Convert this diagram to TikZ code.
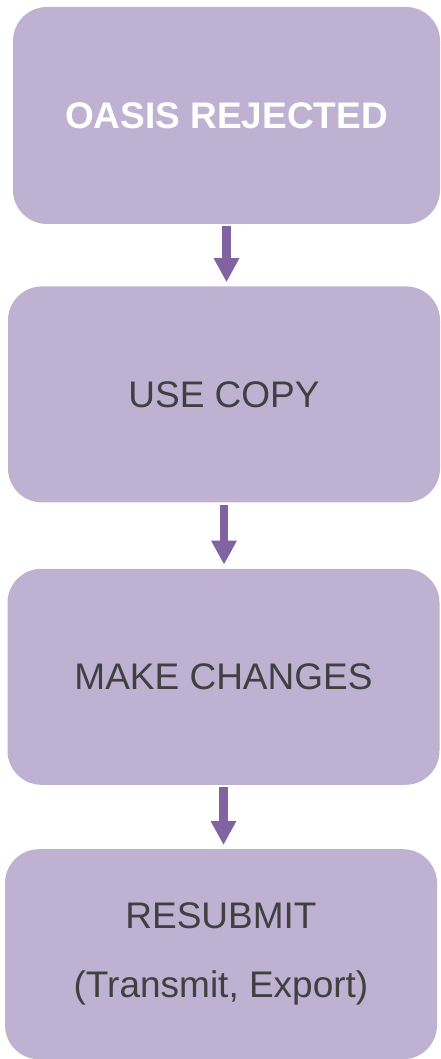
\documentclass[tikz,border=0pt]{standalone}
\usepackage{fontspec}
\setmainfont{Liberation Sans}
\usetikzlibrary{arrows.meta, positioning}

\definecolor{boxfill}{HTML}{BFB1D2}
\definecolor{flowpurple}{HTML}{8064A2}
\definecolor{textgrey}{HTML}{404040}

\begin{document}
\begin{tikzpicture}[
    stepbox/.style={fill=boxfill, rounded corners=34pt, align=center, text=textgrey,
      minimum width=432pt, minimum height=216pt, inner sep=0pt,
      font=\fontsize{37}{69}\selectfont},
    flow/.style={-{Triangle[width=24pt, length=24pt]}, draw=flowpurple,
      line width=8.5pt, shorten <=2pt, shorten >=4pt}
  ]
    \useasboundingbox (0,0) rectangle (440pt,-1059pt);

    \node[stepbox, minimum width=427pt, minimum height=217pt, text=white,
      font=\fontsize{37}{69}\selectfont\bfseries] (rejected) at (226.5pt,-115.5pt) {OASIS REJECTED};
    \node[stepbox, below=62pt of rejected, xshift=-2.5pt] (copy) {USE COPY};
    \node[stepbox, below=66pt of copy, xshift=-0.5pt] (changes) {MAKE CHANGES};
    \node[stepbox, below=64pt of changes, xshift=-2.5pt, minimum height=210pt] (resubmit)
      {RESUBMIT\\(Transmit, Export)};

    \draw[flow] (rejected.south) -- (rejected.south |- copy.north);
    \draw[flow] (copy.south) -- (copy.south |- changes.north);
    \draw[flow] (changes.south) -- (changes.south |- resubmit.north);
  \end{tikzpicture}
\end{document}
